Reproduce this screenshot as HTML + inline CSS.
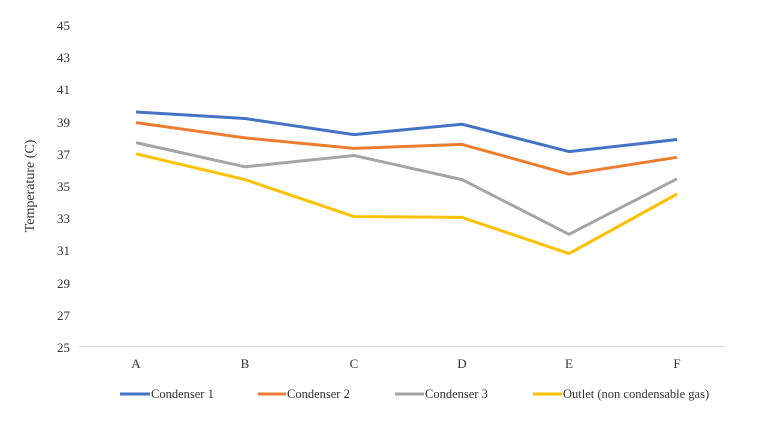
<!DOCTYPE html><html><head><style>body{margin:0;background:#fff}</style></head><body>
<svg width="761" height="427" xmlns="http://www.w3.org/2000/svg" font-family="Liberation Serif, serif" font-size="13" fill="#333">
<line x1="79" y1="346.5" x2="725" y2="346.5" stroke="#d9d9d9" stroke-width="1"/>
<g text-anchor="end">
<text x="70" y="30">45</text><text x="70" y="62">43</text><text x="70" y="94">41</text><text x="70" y="127">39</text><text x="70" y="159">37</text><text x="70" y="191">35</text><text x="70" y="223">33</text><text x="70" y="255">31</text><text x="70" y="288">29</text><text x="70" y="320">27</text><text x="70" y="352">25</text>
</g>
<text transform="translate(34,186) rotate(-90)" text-anchor="middle" font-size="14">Temperature (C)</text>
<g text-anchor="middle">
<text x="136" y="368">A</text><text x="245" y="368">B</text><text x="354" y="368">C</text><text x="462" y="368">D</text><text x="569" y="368">E</text><text x="677" y="368">F</text>
</g>
<g fill="none" stroke-width="3" stroke-linejoin="round">
<polyline stroke="#4472c4" points="136,112 245,118.5 354,134.6 462,124.2 569,151.6 677,139.5"/>
<polyline stroke="#ed7d31" points="136,122.6 245,137.9 354,148.4 462,144.4 569,174.2 677,157.3"/>
<polyline stroke="#a5a5a5" points="136,142.6 245,166.8 354,155.5 462,179.6 569,234.3 677,178.8"/>
<polyline stroke="#ffc000" points="136,153.8 245,179.6 354,216.6 462,217.4 569,253.6 677,194"/>
</g>
<g stroke-width="3">
<line x1="120" y1="394" x2="150" y2="394" stroke="#4472c4"/>
<line x1="258" y1="394" x2="286" y2="394" stroke="#ed7d31"/>
<line x1="395" y1="394" x2="424" y2="394" stroke="#a5a5a5"/>
<line x1="533" y1="394" x2="562" y2="394" stroke="#ffc000"/>
</g>
<g font-size="12.5">
<text x="151" y="398">Condenser 1</text>
<text x="287" y="398">Condenser 2</text>
<text x="425" y="398">Condenser 3</text>
<text x="563" y="398">Outlet (non condensable gas)</text>
</g>
</svg>
</body></html>
